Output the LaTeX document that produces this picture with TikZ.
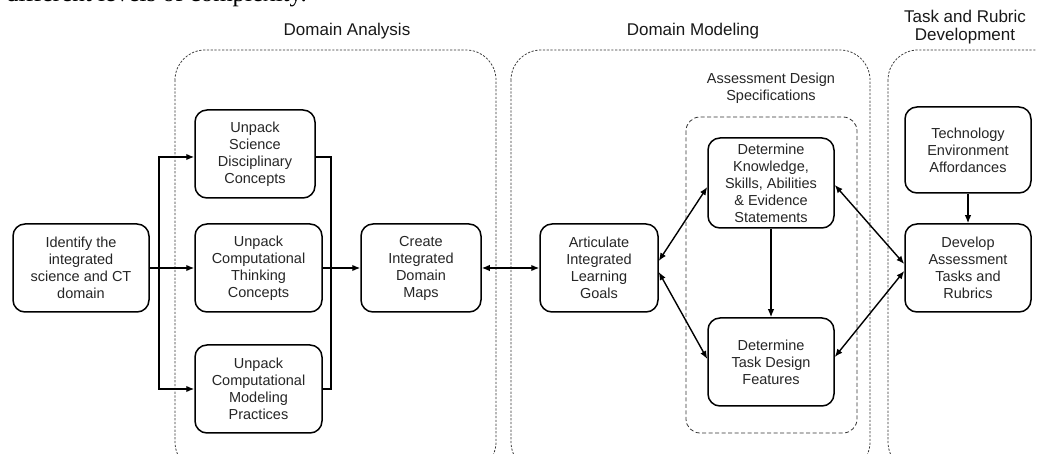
\documentclass[tikz,border=0pt]{standalone}
\usepackage{fontspec}
\setmainfont{Liberation Sans}
\newfontfamily\serifcut{Liberation Serif}
\usetikzlibrary{arrows.meta}
\begin{document}
\begin{tikzpicture}[x=1pt,y=-1pt,
  box/.style={draw=black,line width=1.5pt,rounded corners=12pt,align=center,
    inner sep=0pt,font=\fontsize{14.5}{17}\selectfont,text=black!85},
  cont/.style={draw=black!80,line width=0.75pt,dash pattern=on 2.2pt off 1.6pt,rounded corners=30pt},
  inner/.style={draw=black!80,line width=0.8pt,dash pattern=on 4pt off 2.5pt,rounded corners=14pt},
  ttl/.style={font=\fontsize{17}{19}\selectfont,align=center,text=black!90},
  sttl/.style={font=\fontsize{14.5}{17}\selectfont,align=center,text=black!85},
  link/.style={line width=1.4pt},
  arr/.style={link,-{Latex[length=8pt,width=6.5pt]}},
  darr/.style={link,{Latex[length=8pt,width=6.5pt]}-{Latex[length=8pt,width=6.5pt]}}]
\useasboundingbox (0,0) rectangle (1037,454);
\clip (0,0) rectangle (1037,454);
\fill[white] (0,0) rectangle (1037,454);
% clipped text from the page above
\node[anchor=base west,inner sep=0pt,font=\serifcut\fontsize{25}{27}\selectfont] (cut) at (6,2) {different levels of complexity.};
% containers
\draw[cont] (175,50) rectangle (496,472);
\draw[cont] (511,50) rectangle (870,472);
\draw[cont] (888,50) rectangle (1070,472);
\draw[inner] (686,117) rectangle (857,433);
\node[ttl] (tda) at (347,31) {Domain Analysis};
\node[ttl] (tdm) at (693,31) {Domain Modeling};
\node[ttl,font=\fontsize{17}{18}\selectfont] (ttr) at (965,27) {Task and Rubric\\Development};
\node[sttl] (tads) at (771,88.5) {Assessment Design\\Specifications};
% nodes
\node[box,minimum width=136pt,minimum height=88pt] (id) at (81,268) {Identify the\\integrated\\science and CT\\domain};
\node[box,minimum width=120pt,minimum height=88pt] (sci) at (255,154) {Unpack\\Science\\Disciplinary\\Concepts};
\node[box,minimum width=127pt,minimum height=88pt] (ct) at (258.5,268) {Unpack\\Computational\\Thinking\\Concepts};
\node[box,minimum width=127pt,minimum height=88pt] (cmp) at (258.5,389) {Unpack\\Computational\\Modeling\\Practices};
\node[box,minimum width=120pt,minimum height=88pt] (cr) at (421,268) {Create\\Integrated\\Domain\\Maps};
\node[box,minimum width=118pt,minimum height=88pt] (ar) at (599,268) {Articulate\\Integrated\\Learning\\Goals};
\node[box,minimum width=126pt,minimum height=90pt] (ksa) at (771,183) {Determine\\Knowledge,\\Skills, Abilities\\\& Evidence\\Statements};
\node[box,minimum width=126pt,minimum height=88pt] (task) at (771,362) {Determine\\Task Design\\Features};
\node[box,minimum width=126pt,minimum height=86pt] (tech) at (968,150) {Technology\\Environment\\Affordances};
\node[box,minimum width=126pt,minimum height=88pt] (dev) at (968,268) {Develop\\Assessment\\Tasks and\\Rubrics};
% connectors
\coordinate (br) at (159,268);
\coordinate (mg) at (331,268);
\draw[arr] (id.east) -- (ct.west);
\draw[arr] (br) |- ([yshift=-3pt]sci.west);
\draw[arr] (br) |- (cmp.west);
\draw[link] ([yshift=-3pt]sci.east) -| (mg);
\draw[link] (cmp.east) -| (mg);
\draw[arr] (ct.east) -- (cr.west);
\draw[darr] (cr.east) -- (ar.west);
\draw[darr] ([yshift=7pt]ar.east) -- ([yshift=-4pt]ksa.west);
\draw[darr] ([yshift=-4pt]ar.east) -- ([yshift=3pt]task.west);
\draw[arr] (ksa.south) -- (task.north);
\draw[darr] ([yshift=-2pt]ksa.east) -- ([yshift=4pt]dev.west);
\draw[darr] ([yshift=5pt]task.east) -- ([yshift=-3pt]dev.west);
\draw[arr] (tech.south) -- (dev.north);
\end{tikzpicture}
\end{document}
